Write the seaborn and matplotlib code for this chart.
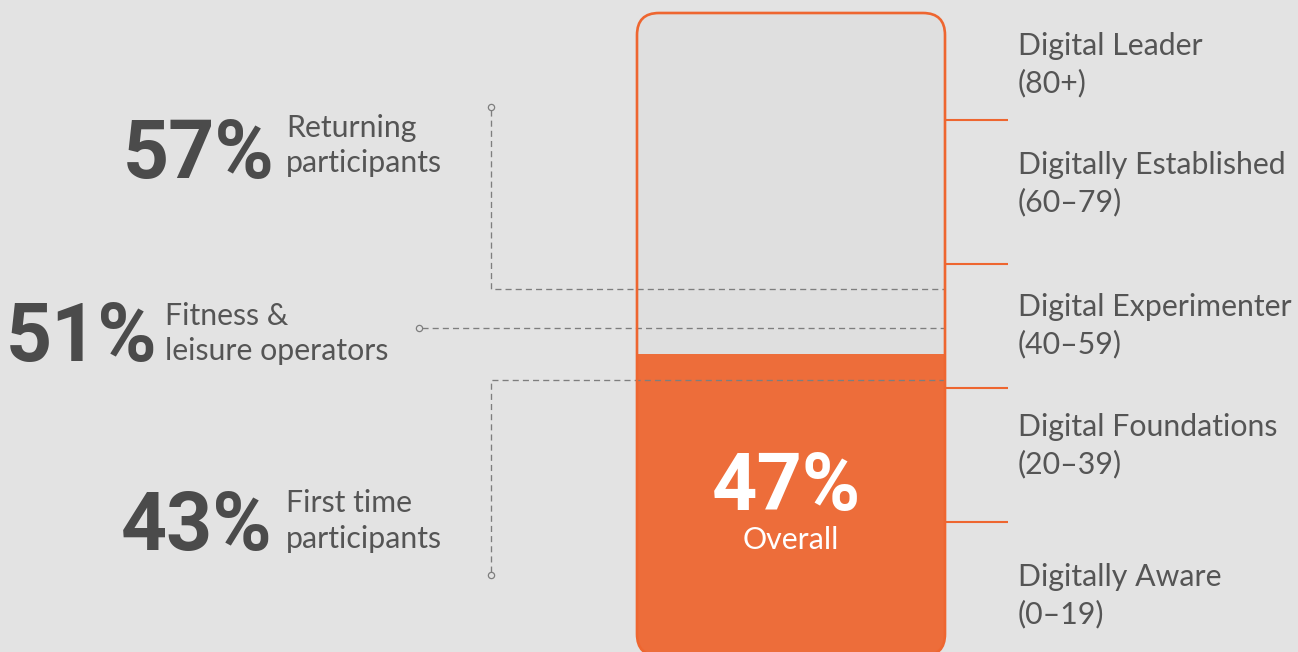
import matplotlib
matplotlib.use("Agg")
import matplotlib.pyplot as plt
import seaborn as sns
import pandas as pd
from matplotlib.patches import FancyBboxPatch

# ---------------- data ----------------
overall_label = "Overall"
overall_value = 47
scale_max = 100
segment_values = [57, 51, 43]
segment_lines1 = ["Returning", "Fitness &", "First time"]
segment_lines2 = ["participants", "leisure operators", "participants"]
tier_names = ["Digital Leader", "Digitally Established", "Digital Experimenter",
              "Digital Foundations", "Digitally Aware"]
tier_ranges = ["(80+)", "(60–79)", "(40–59)", "(20–39)", "(0–19)"]

# ---------------- style ----------------
ORANGE = "#ED6D3A"
ORANGE_LINE = "#EE6630"
BG = "#E3E3E3"
INNER = "#DFDFDF"
DARK = "#4B4B4B"
MID = "#555555"
DASH = "#7E7E7E"
NUM_FONT = ["Roboto", "DejaVu Sans"]
LAB_SIZE = 21.8

sns.set_theme(style="white")
plt.rcParams["font.family"] = ["Lato", "DejaVu Sans"]

W, H = 1298, 652
fig = plt.figure(figsize=(W / 100, H / 100), dpi=100, facecolor=BG)
ax = fig.add_axes([0, 0, 1, 1])
ax.set_facecolor(BG)

# pixel -> data helpers (layout only)
PX_PER_X = 308.0
X0 = 791.0
PX_PER_Y = 6.43
Y0 = 656.0
def X(px):
    return (px - X0) / PX_PER_X
def Y(py):
    return (Y0 - py) / PX_PER_Y

df = pd.DataFrame({"label": [overall_label], "value": [overall_value]})

box_style = "round,pad=0,rounding_size=%f" % (22 / PX_PER_X)
aspect = PX_PER_X / PX_PER_Y

# empty interior of the gauge
inner = FancyBboxPatch((-0.5, 0), 1.0, scale_max, boxstyle=box_style,
                       mutation_aspect=aspect, facecolor=INNER, edgecolor="none",
                       zorder=1)
ax.add_patch(inner)

# filled level via seaborn
sns.barplot(data=df, x="label", y="value", color=ORANGE, saturation=1,
            width=1.0, ax=ax, zorder=2, linewidth=0)
for bar in ax.patches:
    if bar is not inner:
        bar.set_clip_path(inner)

# outline
outline = FancyBboxPatch((-0.5, 0), 1.0, scale_max, boxstyle=box_style,
                         mutation_aspect=aspect, facecolor="none",
                         edgecolor=ORANGE_LINE, lw=1.9, zorder=5)
ax.add_patch(outline)

# tier divider ticks on the right
for py in [120, 264, 388, 522]:
    ax.plot([X(945), X(1008)], [Y(py), Y(py)], color=ORANGE_LINE, lw=1.5,
            solid_capstyle="butt", zorder=5)

# tier labels
tier_base1_px = [55, 174, 316, 436, 586]
for name, rng, b in zip(tier_names, tier_ranges, tier_base1_px):
    ax.text(X(1018), Y(b), name, ha="left", va="baseline", fontsize=LAB_SIZE,
            color=MID, zorder=6)
    ax.text(X(1018), Y(b + 37), rng, ha="left", va="baseline", fontsize=LAB_SIZE,
            color=MID, zorder=6)

# dashed connectors
dash_kw = dict(color=DASH, lw=0.95, linestyle=(0, (4.6, 3.1)), zorder=4)
mk_kw = dict(marker="o", markersize=4.5, markerfacecolor=BG, markeredgecolor=DASH,
             markeredgewidth=0.9, linestyle="none", zorder=4)
v57, v51, v43 = segment_values
ax.plot([X(491), X(491), X(945)], [Y(110), v57, v57], **dash_kw)
ax.plot([X(491)], [Y(107)], **mk_kw)
ax.plot([X(422), X(945)], [v51, v51], **dash_kw)
ax.plot([X(419)], [v51], **mk_kw)
ax.plot([X(945), X(491), X(491)], [v43, v43, Y(572)], **dash_kw)
ax.plot([X(491)], [Y(575)], **mk_kw)

# segment callouts
num_right_px = [275, 157, 273]
num_base_px = [178, 361, 550]
lab_left_px = [286, 165, 286]
lab_base1_px = [137, 325, 512]
lab_base2_px = [172, 360, 548]
for v, l1, l2, nr, nb, ll, b1, b2 in zip(segment_values, segment_lines1, segment_lines2,
                                          num_right_px, num_base_px, lab_left_px,
                                          lab_base1_px, lab_base2_px):
    ax.text(X(nr), Y(nb), f"{v}%", ha="right", va="baseline", fontsize=58,
            fontweight="bold", color=DARK, zorder=6, family=NUM_FONT)
    ax.text(X(ll), Y(b1), l1, ha="left", va="baseline", fontsize=LAB_SIZE,
            color=MID, zorder=6)
    ax.text(X(ll), Y(b2), l2, ha="left", va="baseline", fontsize=LAB_SIZE,
            color=MID, zorder=6)

# overall value inside the gauge
ax.text(X(786), Y(510), f"{overall_value}%", ha="center", va="baseline", fontsize=57,
        fontweight="bold", color="white", zorder=6, family=NUM_FONT)
ax.text(0, Y(549), overall_label, ha="center", va="baseline", fontsize=LAB_SIZE,
        color="white", zorder=6)

ax.set_xlim(X(0), X(W))
ax.set_ylim(Y(H), Y(0))
ax.axis("off")

fig.savefig("out.png", dpi=100, facecolor=BG)
